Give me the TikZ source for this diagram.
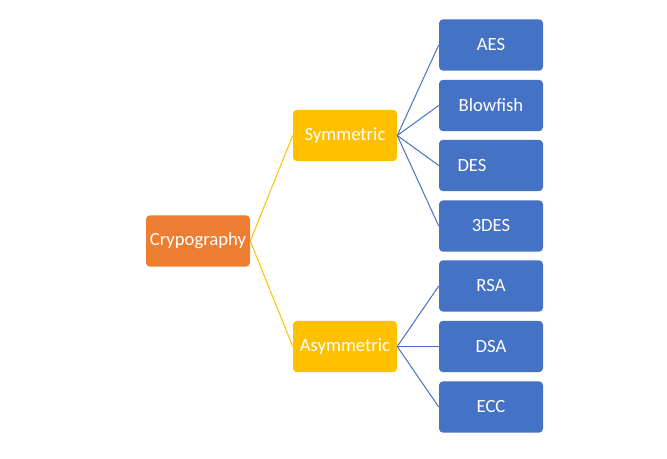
\documentclass[tikz,border=0pt]{standalone}
\usepackage{fontspec}
\setmainfont{Carlito}
\usetikzlibrary{positioning}
\definecolor{cryorange}{HTML}{ED7D31}
\definecolor{cryyellow}{HTML}{FFC000}
\definecolor{cryblue}{HTML}{4472C4}

\begin{document}
\begin{tikzpicture}[x=0.75pt,y=-0.75pt,
    box/.style={rectangle,rounded corners=3pt,minimum width=78pt,minimum height=38.5pt,
        text=white,font=\fontsize{14}{17}\selectfont,inner sep=0pt},
    root/.style={box,fill=cryorange},
    branch/.style={box,fill=cryyellow},
    leaf/.style={box,fill=cryblue}]
            \useasboundingbox (0,0) rectangle (667,459);
            \node [root] (Crypto) at (198,241) {Crypography};
            \node [branch] (Sym) at (345,135.5) {Symmetric};
            \node [branch] (Asym) at (345,346.5) {Asymmetric};
            \node [leaf] (AES) at (491,45) {AES};
            \node [leaf] (Blowfish) at (491,105.5) {Blowfish};
            \node [leaf] (DES) at (491,165.5) {DES\hspace*{28.5pt}};
            \node [leaf] (3DES) at (491,226) {3DES};
            \node [leaf] (RSA) at (491,286) {RSA};
            \node [leaf] (DSA) at (491,346.5) {DSA};
            \node [leaf] (ECC) at (491,407) {ECC};

            \draw [cryyellow,line width=0.75pt] (Crypto.east) -- (Sym.west);
            \draw [cryyellow,line width=0.75pt] (Crypto.east) -- (Asym.west);
            \draw [cryblue,line width=0.75pt] (Sym.east) -- (AES.west);
            \draw [cryblue,line width=0.75pt] (Sym.east) -- (Blowfish.west);
            \draw [cryblue,line width=0.75pt] (Sym.east) -- (DES.west);
            \draw [cryblue,line width=0.75pt] (Sym.east) -- (3DES.west);
            \draw [cryblue,line width=0.75pt] (Asym.east) -- (RSA.west);
            \draw [cryblue,line width=0.75pt] (Asym.east) -- (DSA.west);
            \draw [cryblue,line width=0.75pt] (Asym.east) -- (ECC.west);
        \end{tikzpicture}
\end{document}
